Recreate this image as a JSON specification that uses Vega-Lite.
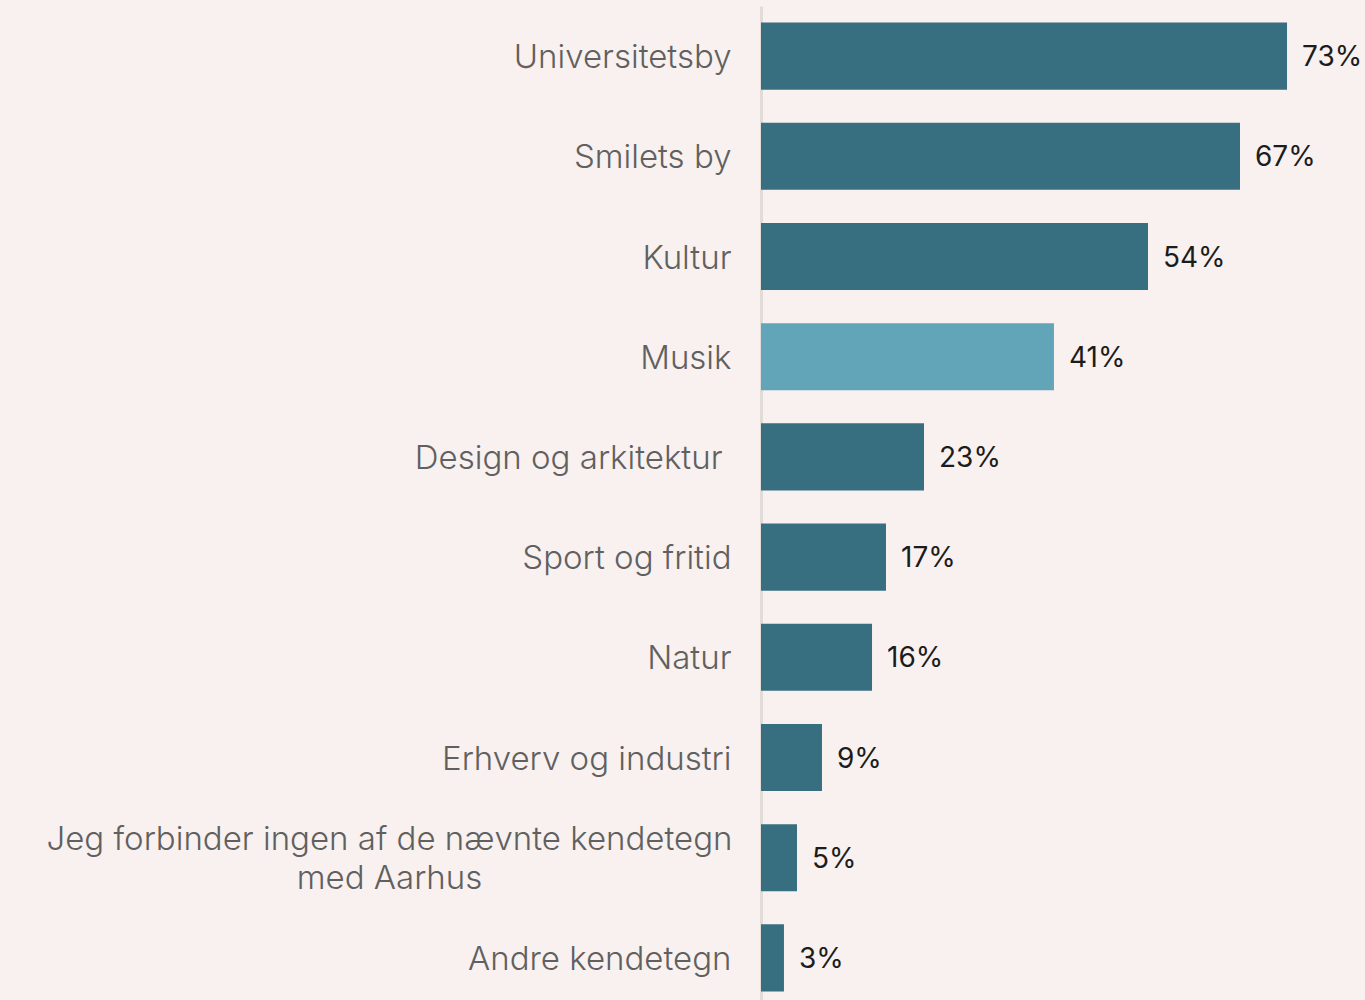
{
  "$schema": "https://vega.github.io/schema/vega-lite/v6.json",
  "autosize": {"type": "none"},
  "width": 604,
  "height": 1002,
  "padding": {"left": 761, "top": 6, "right": 0, "bottom": 0},
  "background": "#f8f1ef",
  "config": {"view": {"stroke": null}},
  "data": {"values": [
    {"cat": "Universitetsby", "value": 73.06, "label": "73%", "hl": "no"},
    {"cat": "Smilets by", "value": 66.53, "label": "67%", "hl": "no"},
    {"cat": "Kultur", "value": 53.75, "label": "54%", "hl": "no"},
    {"cat": "Musik", "value": 40.69, "label": "41%", "hl": "yes"},
    {"cat": "Design og arkitektur", "value": 22.64, "label": "23%", "hl": "no"},
    {"cat": "Sport og fritid", "value": 17.36, "label": "17%", "hl": "no"},
    {"cat": "Natur", "value": 15.42, "label": "16%", "hl": "no"},
    {"cat": "Erhverv og industri", "value": 8.47, "label": "9%", "hl": "no"},
    {"cat": "Jeg forbinder ingen af de nævnte kendetegn|med Aarhus", "value": 5.0, "label": "5%", "hl": "no"},
    {"cat": "Andre kendetegn", "value": 3.19, "label": "3%", "hl": "no"}
  ]},
  "encoding": {
    "y": {
      "field": "cat", "type": "nominal", "sort": null,
      "scale": {"paddingInner": 0.33, "paddingOuter": 0.165},
      "axis": {
        "title": null, "ticks": false,
        "domainColor": "#e2dcd9", "domainWidth": 3,
        "labelFont": "Inter", "labelFontWeight": 300, "labelFontSize": 33,
        "labelColor": "#606060", "labelLimit": 0, "labelLineHeight": 39,
        "labelExpr": "split(datum.label, '|')",
        "labelAlign": {"condition": {"test": "indexof(datum.value, '|') >= 0", "value": "center"}, "value": "right"},
        "labelPadding": {"condition": [
          {"test": "indexof(datum.value, '|') >= 0", "value": 372},
          {"test": "datum.value == 'Design og arkitektur'", "value": 39}
        ], "value": 30},
        "labelOffset": {"condition": {"test": "indexof(datum.value, '|') >= 0", "value": -18}, "value": 2}
      }
    },
    "x": {
      "field": "value", "type": "quantitative",
      "scale": {"domain": [0, 83.89], "nice": false, "zero": true},
      "axis": null
    }
  },
  "layer": [
    {
      "mark": {"type": "bar", "stroke": null},
      "encoding": {
        "color": {
          "field": "hl", "type": "nominal",
          "scale": {"domain": ["no", "yes"], "range": ["#386f80", "#62a5b8"]},
          "legend": null
        }
      }
    },
    {
      "mark": {"type": "text", "align": "left", "baseline": "middle", "dx": 15, "dy": 2, "font": "Inter", "fontSize": 28, "color": "#1c1c1c"},
      "encoding": {"text": {"field": "label"}}
    }
  ]
}
